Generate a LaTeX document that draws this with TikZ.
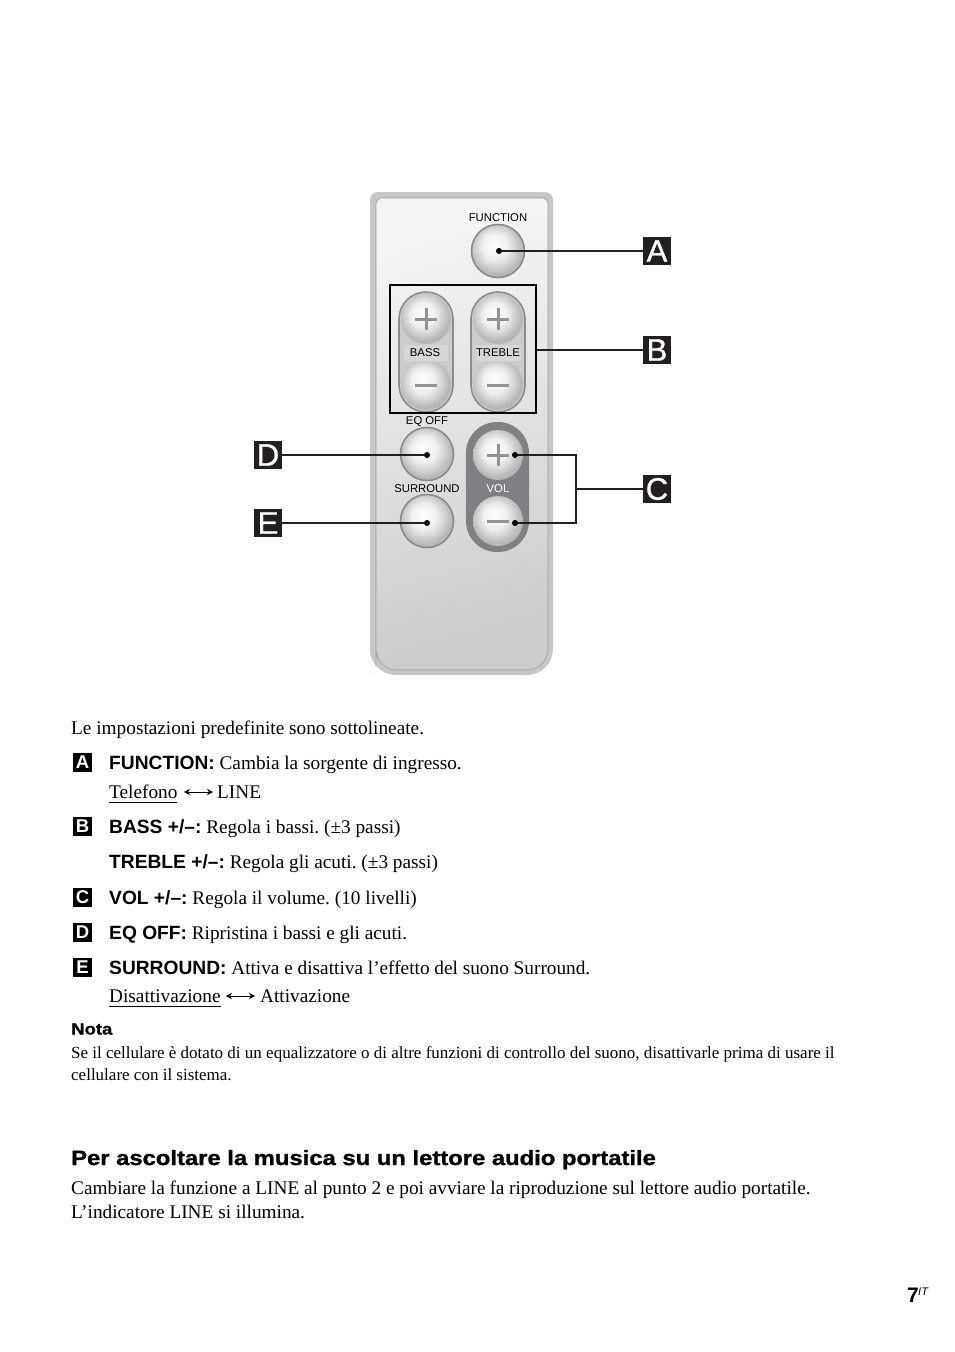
\documentclass[tikz,border=0pt]{standalone}
\usepackage{fontspec}
\setmainfont{Liberation Serif}
\setsansfont{Liberation Sans}
\newfontfamily\heavyfont[FakeStretch=1.15,FakeBold=1.2]{Liberation Sans Bold}
\newfontfamily\markfont[FakeBold=0.9]{Liberation Sans}
\usetikzlibrary{arrows.meta}
\definecolor{shellgray}{HTML}{C6C7C9}
\definecolor{ringgray}{HTML}{8B8C8F}
\definecolor{signgray}{HTML}{929396}
\definecolor{volgray}{HTML}{7F8083}
\definecolor{markgray}{HTML}{231F20}
\pgfdeclareradialshading{btnball}{\pgfpoint{-4bp}{6bp}}{color(0bp)=(white);color(12bp)=(white!94!black);color(25bp)=(white!72!black);color(50bp)=(white!62!black)}
\tikzset{
  bodytxt/.style={anchor=base west,inner sep=0pt,font=\frenchspacing\fontsize{19.28}{19}\selectfont},
  notetxt/.style={anchor=base west,inner sep=0pt,font=\frenchspacing\fontsize{17}{17}\selectfont},
  remotetxt/.style={anchor=center,inner sep=0pt,font=\sffamily\fontsize{11.3}{12}\selectfont,text=black},
  bigmark/.style={fill=markgray,text=white,minimum size=28pt,inner sep=0pt,font=\markfont\fontsize{31}{31}\selectfont},
  smallmark/.style={fill=black,text=white,minimum size=19pt,inner sep=0pt,font=\sffamily\bfseries\fontsize{18.5}{18}\selectfont},
  btn/.style={circle,draw=ringgray,line width=1.6pt,minimum size=53pt,inner sep=0pt,shading=btnball},
  softbtn/.style={circle,minimum size=50pt,inner sep=0pt,shading=btnball},
  dotmark/.style={circle,fill=black,minimum size=6pt,inner sep=0pt},
  leader/.style={draw=markgray,line width=1.9pt},
  signline/.style={draw=signgray,line width=3pt},
  swaparrow/.style={{Stealth[length=6pt,width=6.5pt]}-{Stealth[length=6pt,width=6.5pt]},line width=0.9pt}
}
\newcommand{\lead}[1]{{\sffamily\bfseries\fontsize{19.2}{18}\selectfont #1}}
\newcommand{\ulin}[1]{\underline{\smash{#1}\rule[-2.5pt]{0pt}{0pt}}}
\begin{document}
\begin{tikzpicture}[x=1pt,y=-1pt]
\useasboundingbox (0,0) rectangle (954,1352);
% remote shell
\fill[shellgray,rounded corners=8pt] (370,192) -- (553,192) -- (553,650) [rounded corners=26pt] -- (553,675) -- (370,675) -- (370,650) [rounded corners=8pt] -- cycle;
\shade[top color=white!96!black,bottom color=white!80!black,shading angle=15,rounded corners=6pt,draw=white!62!black,line width=0.6pt] (376,198) -- (548,198) -- (548,645) [rounded corners=21pt] -- (548,670) -- (376,670) -- (376,645) [rounded corners=6pt] -- cycle;
% bass and treble pills
\foreach \x in {426,498} {
  \filldraw[fill=white!80!black,draw=ringgray,line width=1.6pt,rounded corners=27pt] (\x-27,292) rectangle (\x+27,412);
  \node[softbtn] at (\x,319) {};
  \node[softbtn] at (\x,385) {};
  \draw[signline] (\x-11,319) -- (\x+11,319) (\x,308) -- (\x,330);
  \draw[signline] (\x-11,385) -- (\x+11,385);
}
\fill[white!84!black] (404,345) rectangle (448,361) (476,345) rectangle (521,361);
\node[remotetxt] (bass) at (425,353) {BASS};
\node[remotetxt] (treble) at (498,353) {TREBLE};
% vol pill
\fill[volgray,rounded corners=31pt] (466,422) rectangle (529,552);
\node[softbtn] at (498,455) {};
\node[softbtn] at (498,521) {};
\draw[signline] (487,455) -- (509,455) (498,444) -- (498,466);
\draw[signline] (487,521) -- (509,521);
\node[remotetxt,text=white] (vol) at (498,489) {VOL};
% round buttons
\node[btn] (funcbtn) at (498,251) {};
\node[btn] (eqbtn) at (427,454) {};
\node[btn] (surbtn) at (427,521) {};
\node[remotetxt] (func) at (498,218) {FUNCTION};
\node[remotetxt] (eqoff) at (427,422) {EQ OFF};
\node[remotetxt] (surround) at (427,489) {SURROUND};
% callouts
\node[draw=black,line width=2.4pt,minimum width=146pt,minimum height=128pt,inner sep=0pt] (bbox) at (463,349) {};
\node[bigmark] (ma) at (657,251) {A};
\node[bigmark] (mb) at (657,350) {B};
\node[bigmark] (mc) at (657,489) {C};
\node[bigmark] (md) at (268,455) {D};
\node[bigmark] (me) at (268,523) {E};
\node[dotmark] (da) at (499,251) {};
\node[dotmark] (dd) at (427,455) {};
\node[dotmark] (de) at (427,523) {};
\node[dotmark] (dp) at (515,455) {};
\node[dotmark] (dm) at (515,523) {};
\coordinate (cj) at (576,489);
\draw[leader] (da) -- (ma);
\draw[leader] (bbox.east |- mb) -- (mb);
\draw[leader] (dd) -- (md);
\draw[leader] (de) -- (me);
\draw[leader] (dp) -| (cj);
\draw[leader] (dm) -| (cj);
\draw[leader] (cj) -- (mc);
% settings list
\node[bodytxt] (intro) at (71,734) {Le impostazioni predefinite sono sottolineate.};
\node[smallmark] (la) at (82.5,762.5) {A};
\node[bodytxt] (ta) at (109,769) {\lead{FUNCTION:} Cambia la sorgente di ingresso.};
\node[bodytxt] (tel) at (109,798) {\ulin{Telefono}};
\node[bodytxt] (line) at (217,798) {LINE};
\draw[swaparrow] (184,792) -- (213,792);
\node[smallmark] (lb) at (82.5,826.5) {B};
\node[bodytxt] (tb) at (109,833) {\lead{BASS +/--:} Regola i bassi. (±3 passi)};
\node[bodytxt] (tt) at (109,868) {\lead{TREBLE +/--:} Regola gli acuti. (±3 passi)};
\node[smallmark] (lc) at (82.5,897.5) {C};
\node[bodytxt] (tc) at (109,904) {\lead{VOL +/--:} Regola il volume. (10 livelli)};
\node[smallmark] (ld) at (82.5,932.5) {D};
\node[bodytxt] (td) at (109,939) {\lead{EQ OFF:} Ripristina i bassi e gli acuti.};
\node[smallmark] (le) at (82.5,967.5) {E};
\node[bodytxt] (te) at (109,974) {\lead{SURROUND:} Attiva e disattiva l’effetto del suono Surround.};
\node[bodytxt] (dis) at (109,1002) {\ulin{Disattivazione}};
\node[bodytxt] (att) at (260,1002) {Attivazione};
\draw[swaparrow] (226,996) -- (255,996);
% note
\node[anchor=base west,inner sep=0pt,font=\heavyfont\fontsize{16.1}{15}\selectfont] (nota) at (71,1034.5) {Nota};
\node[notetxt] (n1) at (71,1058) {Se il cellulare è dotato di un equalizzatore o di altre funzioni di controllo del suono, disattivarle prima di usare il};
\node[notetxt] (n2) at (71,1080) {cellulare con il sistema.};
% heading and last lines
\node[anchor=base west,inner sep=0pt,font=\heavyfont\fontsize{20.7}{20}\selectfont] (head) at (71,1165) {Per ascoltare la musica su un lettore audio portatile};
\node[bodytxt] (p1) at (71,1194) {Cambiare la funzione a LINE al punto 2 e poi avviare la riproduzione sul lettore audio portatile.};
\node[bodytxt] (p2) at (71,1218) {L’indicatore LINE si illumina.};
\node[anchor=base west,inner sep=0pt,font=\sffamily\bfseries\fontsize{21}{21}\selectfont] (pg) at (907,1302) {7};
\node[anchor=base west,inner sep=0pt,font=\sffamily\itshape\fontsize{11}{11}\selectfont] (pgit) at (918,1295) {IT};
\end{tikzpicture}
\end{document}
